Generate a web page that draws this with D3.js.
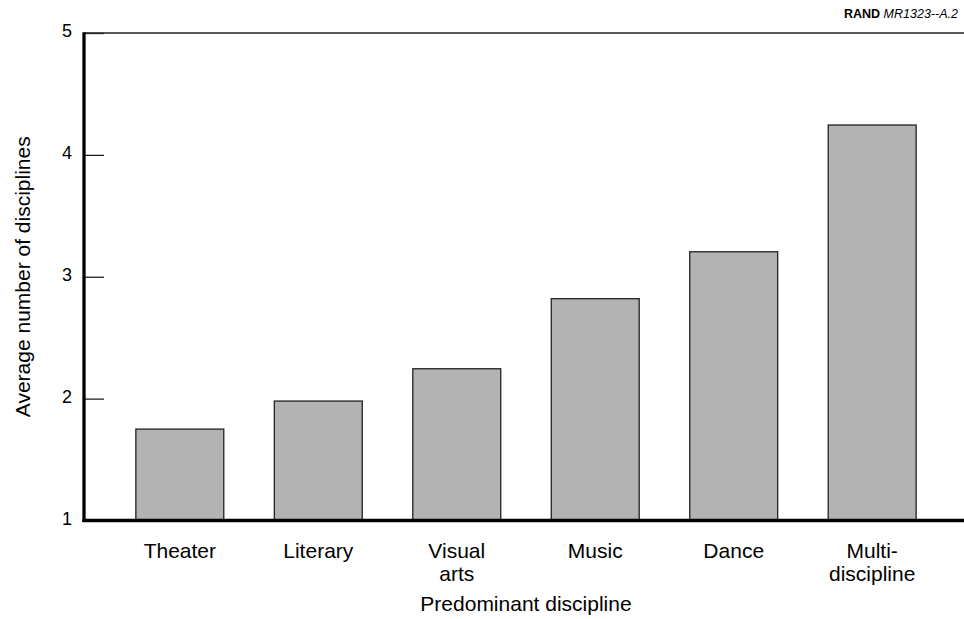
<!DOCTYPE html>
<html>
<head>
<meta charset="utf-8">
<script src="https://cdn.jsdelivr.net/npm/d3@7"></script>
<style>
  body { margin: 0; background: #fff; overflow: hidden; }
  text { font-family: 'Liberation Sans', Arial, Helvetica, sans-serif; fill: #000; }
</style>
</head>
<body>
<div class="canvas"></div>
<script>
// data
const categories = ['Theater', 'Literary', 'Visual arts', 'Music', 'Dance', 'Multi-discipline'];
const labelLines = [['Theater'], ['Literary'], ['Visual', 'arts'], ['Music'], ['Dance'], ['Multi-', 'discipline']];
const values = [1.75, 1.98, 2.245, 2.82, 3.205, 4.245];
const yTicks = [1, 2, 3, 4, 5];

const dims = { width: 964, height: 619 };
const plot = { left: 84, right: 964, top: 33, bottom: 520.5 };

const svg = d3.select('.canvas')
  .append('svg')
  .attr('width', dims.width)
  .attr('height', dims.height)
  .style('display', 'block');

const x = d3.scaleBand()
  .domain(categories)
  .range([86, 966])
  .paddingInner(0.365)
  .paddingOuter(0.36);

const y = d3.scaleLinear()
  .domain([1, 5])
  .range([plot.bottom, plot.top]);

// bars
svg.append('g')
  .selectAll('rect')
  .data(values)
  .enter()
  .append('rect')
    .attr('x', (d, i) => x(categories[i]))
    .attr('y', d => y(d))
    .attr('width', x.bandwidth())
    .attr('height', d => y(1) - y(d))
    .attr('fill', '#b3b3b3')
    .attr('stroke', '#222')
    .attr('stroke-width', 1.3);

// top frame line
svg.append('line')
  .attr('x1', plot.left).attr('x2', plot.right)
  .attr('y1', y(5)).attr('y2', y(5))
  .attr('stroke', '#222')
  .attr('stroke-width', 1.4);

// y axis, ticks pointing inward
const yAxis = d3.axisLeft(y)
  .tickValues(yTicks)
  .tickSizeInner(-20)
  .tickSizeOuter(0)
  .tickPadding(12)
  .tickFormat(d3.format('d'));

const yAxisGroup = svg.append('g')
  .attr('transform', `translate(${plot.left}, 0)`)
  .call(yAxis);

yAxisGroup.select('.domain').remove();
yAxisGroup.selectAll('.tick line')
  .attr('stroke', '#222')
  .attr('stroke-width', 1.3);
yAxisGroup.selectAll('text')
  .attr('font-size', 18)
  .attr('dy', '0.2em')
  .attr('fill', '#000');

svg.append('line')
  .attr('x1', plot.left).attr('x2', plot.left)
  .attr('y1', y(5) - 0.7).attr('y2', y(1) + 1.5)
  .attr('stroke', '#000')
  .attr('stroke-width', 3.3);

// x axis
const xAxis = d3.axisBottom(x)
  .tickSize(0)
  .tickFormat('');

const xAxisGroup = svg.append('g')
  .attr('transform', `translate(0, ${y(1)})`)
  .call(xAxis);

xAxisGroup.select('.domain').remove();
xAxisGroup.selectAll('.tick')
  .append('text')
    .attr('text-anchor', 'middle')
    .attr('font-size', 21)
    .selectAll('tspan')
    .data(d => labelLines[categories.indexOf(d)])
    .enter()
    .append('tspan')
      .attr('x', 0)
      .attr('y', (d, i) => 37.5 + i * 23)
      .text(d => d);

svg.append('line')
  .attr('x1', plot.left - 1.6).attr('x2', plot.right)
  .attr('y1', y(1)).attr('y2', y(1))
  .attr('stroke', '#000')
  .attr('stroke-width', 3.3);

// axis titles
svg.append('text')
  .attr('x', 526)
  .attr('y', 611)
  .attr('text-anchor', 'middle')
  .attr('font-size', 21)
  .text('Predominant discipline');

svg.append('text')
  .attr('transform', `translate(30, ${(plot.top + plot.bottom) / 2}) rotate(-90)`)
  .attr('text-anchor', 'middle')
  .attr('font-size', 21)
  .text('Average number of disciplines');

// figure id
const idText = svg.append('text')
  .attr('x', 844)
  .attr('y', 18)
  .attr('font-size', 12.5);
idText.append('tspan').attr('font-weight', 'bold').text('RAND ');
idText.append('tspan').attr('font-style', 'italic').text('MR1323--A.2');
</script>
</body>
</html>
